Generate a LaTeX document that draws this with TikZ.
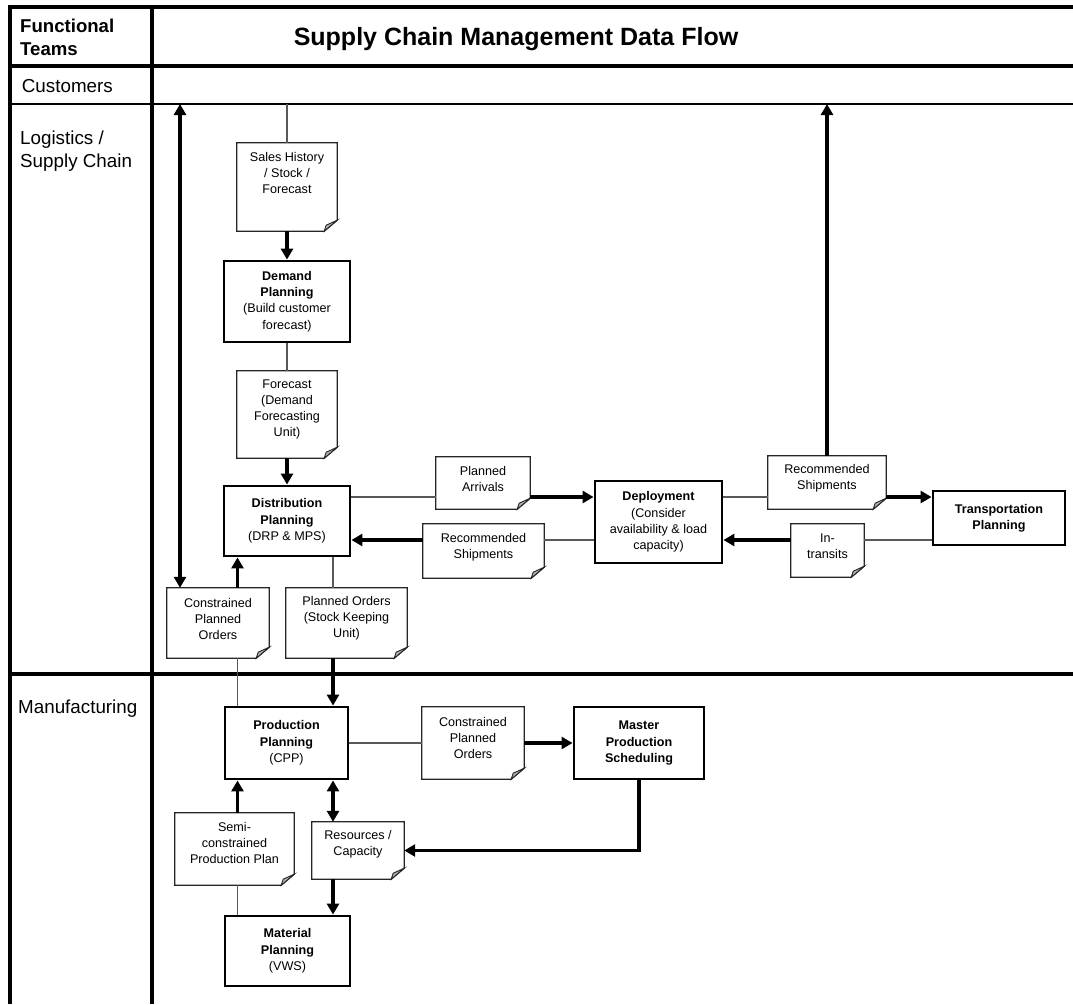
\documentclass[tikz,border=0pt]{standalone}
\usepackage{fontspec}
\setmainfont{Liberation Sans}
\usetikzlibrary{arrows.meta,calc}

% document note: frame node, outline with folded corner, and its text
\newcommand\docnote[6]{%
  \node[notebox, minimum width=#3pt, minimum height=#4pt] (#1) at (#2) {};
  \draw[noteline] (#1.north west) -- (#1.north east) -- ([yshift=11pt]#1.south east)
    -- ([xshift=-13pt]#1.south east) -- (#1.south west) -- cycle;
  \filldraw[fold] ([xshift=-13pt]#1.south east) -- ([yshift=11pt]#1.south east)
    -- ([xshift=-11pt,yshift=6pt]#1.south east) -- cycle;
  \node[notetext] (#1-txt) at ([yshift=#5pt]#1.center) {#6};
}

\begin{document}
\begin{tikzpicture}[x=1pt,y=-1pt,
  lane/.style={draw=black, line width=3.6pt},
  lanelabel/.style={inner sep=0pt, align=left, font=\fontsize{18.8}{22.7}\selectfont},
  procbox/.style={draw=black, line width=2.9pt, fill=white, align=center, inner sep=0pt,
    font=\fontsize{12.6}{16.4}\selectfont},
  notebox/.style={draw=none, inner sep=0pt},
  notetext/.style={align=center, inner sep=0pt, font=\fontsize{12.6}{16}\selectfont},
  noteline/.style={draw=black!85, line width=1.3pt, fill=white},
  fold/.style={fill=black!30, draw=black!85, line width=0.9pt},
  link/.style={draw=black!65, line width=1.3pt},
  flow/.style={draw=black, line width=3.3pt, -{Triangle[length=11pt,width=12pt]}},
  flowboth/.style={draw=black, line width=3.3pt,
    {Triangle[length=11pt,width=12pt]}-{Triangle[length=11pt,width=12pt]}}
]
\useasboundingbox (0,0) rectangle (1073,1004);

% ---------- swim-lane frame ----------
\draw[lane] (7.9,7) -- (1073,7);
\draw[lane] (9.7,5.2) -- (9.7,1004);
\draw[lane] (152,7) -- (152,1004);
\draw[draw=black, line width=4pt] (9.7,65.5) -- (1073,65.5);
\draw[draw=black, line width=2.6pt] (9.7,104) -- (1073,104);
\draw[lane] (9.7,674) -- (1073,674);
\coordinate (custline) at (152,104);

% ---------- headings ----------
\node[lanelabel, anchor=north west, font=\fontsize{18.6}{23.3}\selectfont\bfseries]
  (lblTeams) at (20,18.5) {Functional\\Teams};
\node[inner sep=0pt, anchor=base, font=\fontsize{25}{30}\selectfont\bfseries]
  (title) at (516,45) {Supply Chain Management Data Flow};
\node[lanelabel, anchor=base west] (lblCust) at (21.7,92) {Customers};
\node[lanelabel, anchor=north west] (lblLog) at (20,130.5) {Logistics /\\Supply Chain};
\node[lanelabel, anchor=base west] (lblMfg) at (18,713) {Manufacturing};

% ---------- process boxes ----------
\node[procbox, minimum width=126pt, minimum height=81pt] (demand) at (287,301.5)
  {\textbf{Demand}\\\textbf{Planning}\\(Build customer\\forecast)};
\node[procbox, minimum width=126pt, minimum height=70pt] (distp) at (287,521)
  {\textbf{Distribution}\\\textbf{Planning}\\(DRP \& MPS)};
\node[procbox, minimum width=127pt, minimum height=82pt] (deploy) at (658.5,522)
  {\textbf{Deployment}\\(Consider\\availability \& load\\capacity)};
\node[procbox, minimum width=132pt, minimum height=54pt] (transp) at (999,518)
  {\textbf{Transportation}\\\textbf{Planning}};
\node[procbox, minimum width=123pt, minimum height=72pt] (prodp) at (286.5,743)
  {\textbf{Production}\\\textbf{Planning}\\(CPP)};
\node[procbox, minimum width=130pt, minimum height=72pt] (mps) at (639,743)
  {\textbf{Master}\\\textbf{Production}\\\textbf{Scheduling}};
\node[procbox, minimum width=125pt, minimum height=70pt] (matp) at (287.5,951)
  {\textbf{Material}\\\textbf{Planning}\\(VWS)};

% ---------- documents ----------
\docnote{sales}{287,187}{100}{88}{14}{Sales History\\/ Stock /\\Forecast}
\docnote{fcst}{287,414.5}{100}{87}{5.5}{Forecast\\(Demand\\Forecasting\\Unit)}
\docnote{planarr}{483,483}{94}{52}{4}{Planned\\Arrivals}
\docnote{recship1}{483.5,551}{121}{54}{4}{Recommended\\Shipments}
\docnote{recship2}{827,482.5}{118}{53}{4}{Recommended\\Shipments}
\docnote{intrans}{827.5,550.5}{73}{53}{4}{In-\\transits}
\docnote{cpo1}{218,623}{102}{70}{4.5}{Constrained\\Planned\\Orders}
\docnote{pord}{346.5,623}{121}{70}{4.5}{Planned Orders\\(Stock Keeping\\Unit)}
\docnote{cpo2}{473,743}{102}{72}{5}{Constrained\\Planned\\Orders}
\docnote{semi}{234.5,849}{119}{72}{6}{Semi-\\constrained\\Production Plan}
\docnote{res}{358,850.5}{92}{57}{6}{Resources /\\Capacity}

% ---------- routing helpers ----------
\coordinate (rowA) at (0,497);
\coordinate (rowB) at (0,540);
\coordinate (colL) at (180,0);
\coordinate (colC) at (237.5,0);
\coordinate (colP) at (333,0);

% ---------- logistics flows ----------
\draw[link] (sales.north) -- (sales.north |- custline);
\draw[flow] (sales.south) -- (demand.north);
\draw[link] (demand.south) -- (fcst.north);
\draw[flow] (fcst.south) -- (distp.north);
\draw[link] (distp.east |- rowA) -- (planarr.west |- rowA);
\draw[flow] (planarr.east |- rowA) -- (deploy.west |- rowA);
\draw[flow] (recship1.west |- rowB) -- (distp.east |- rowB);
\draw[link] (recship1.east |- rowB) -- (deploy.west |- rowB);
\draw[link] (deploy.east |- rowA) -- (recship2.west |- rowA);
\draw[flow] (recship2.east |- rowA) -- (transp.west |- rowA);
\draw[flow] (recship2.north) -- (recship2.north |- custline);
\draw[link] (transp.west |- rowB) -- (intrans.east |- rowB);
\draw[flow] (intrans.west |- rowB) -- (deploy.east |- rowB);
\draw[flowboth] (colL |- custline) -- (colL |- cpo1.north);
\draw[flow] (colC |- cpo1.north) -- (colC |- distp.south);
\draw[link] (colP |- distp.south) -- (colP |- pord.north);

% ---------- manufacturing flows ----------
\draw[link] (colC |- cpo1.south) -- (colC |- prodp.north);
\draw[flow] (colP |- pord.south) -- (colP |- prodp.north);
\draw[link] (prodp.east) -- (cpo2.west);
\draw[flow] (cpo2.east) -- (mps.west);
\draw[flowboth] (colP |- prodp.south) -- (colP |- res.north);
\draw[flow] (colP |- res.south) -- (colP |- matp.north);
\draw[flow] (colC |- semi.north) -- (colC |- prodp.south);
\draw[link] (colC |- semi.south) -- (colC |- matp.north);
\draw[flow] (mps.south) |- (res.east);
\end{tikzpicture}
\end{document}
